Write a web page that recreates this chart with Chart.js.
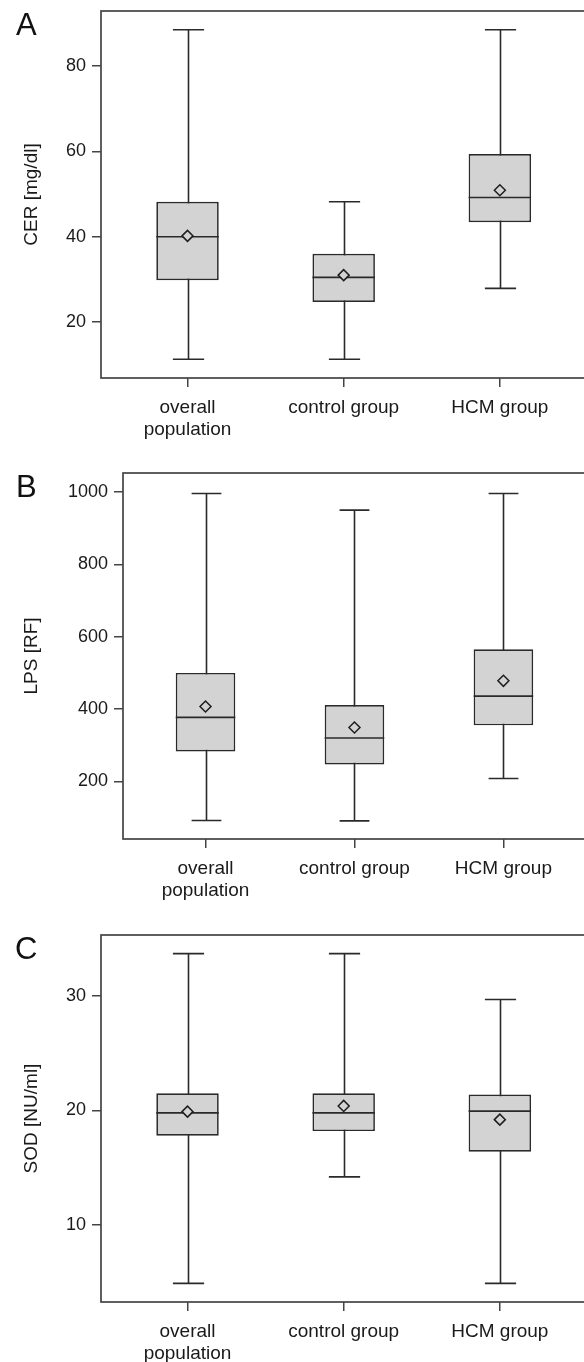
<!DOCTYPE html>
<html>
<head>
<meta charset="utf-8">
<script src="https://cdn.jsdelivr.net/npm/chart.js@4"></script>
<style>
  body { margin: 0; background: #fff; width: 584px; height: 1362px; position: relative; overflow: hidden; }
  canvas { position: absolute; left: 0; }
  .letter { position: absolute; font: 31px 'Liberation Sans', Arial, sans-serif; line-height: 1; color: #111; }
</style>
</head>
<body>
<canvas id="chartA" width="584" height="446" style="top:-6px"></canvas>
<canvas id="chartB" width="584" height="460" style="top:440px"></canvas>
<canvas id="chartC" width="584" height="462" style="top:900px"></canvas>
<div class="letter" style="left:16px;top:9px">A</div>
<div class="letter" style="left:16px;top:471px">B</div>
<div class="letter" style="left:15px;top:933px">C</div>
<script>
// groups on the x axis
const categories = [['overall', 'population'], 'control group', 'HCM group'];
const groupPos = [1, 2, 3];

// CER [mg/dl]
const cerMin = [11.3, 11.3, 27.9];
const cerQ1 = [29.8, 24.7, 43.4];
const cerMedian = [40.0, 30.5, 49.2];
const cerQ3 = [48.2, 36.0, 59.4];
const cerMax = [88.5, 48.2, 88.5];
const cerMean = [40.2, 31.0, 50.9];
const cerTicks = [20, 40, 60, 80];

// LPS [RF]
const lpsMin = [92, 91, 208];
const lpsQ1 = [283, 247, 355];
const lpsMedian = [377, 320, 436];
const lpsQ3 = [500, 411, 565];
const lpsMax = [996, 950, 996];
const lpsMean = [407, 349, 478];
const lpsTicks = [200, 400, 600, 800, 1000];

// SOD [NU/ml]
const sodMin = [4.9, 14.2, 4.9];
const sodQ1 = [17.8, 18.2, 16.4];
const sodMedian = [19.8, 19.8, 19.95];
const sodQ3 = [21.5, 21.5, 21.4];
const sodMax = [33.7, 33.7, 29.7];
const sodMean = [19.9, 20.4, 19.2];
const sodTicks = [10, 20, 30];

const FONT = "'Liberation Sans', Arial, sans-serif";
const LINE = '#2a2a2a';
const BOX_FILL = '#d3d3d3';

// whiskers, caps, medians and the frame, all placed through the chart scales
const boxPlugin = {
  id: 'boxParts',
  beforeDatasetsDraw(chart, args, opts) {
    const { ctx, chartArea: a, scales: { x, y } } = chart;
    const bars = chart.getDatasetMeta(0).data;
    ctx.save();
    // frame (right side runs off the canvas like in the source figure)
    ctx.strokeStyle = '#444';
    ctx.lineWidth = 1.7;
    ctx.strokeRect(a.left, a.top, a.right - a.left + 20, a.bottom - a.top);
    ctx.strokeStyle = LINE;
    ctx.lineWidth = 1.6;
    groupPos.forEach((g, i) => {
      const px = Math.round(x.getPixelForValue(g)) + 0.5;
      const half = bars[i].width / 4;
      const yLo = y.getPixelForValue(opts.min[i]);
      const yHi = y.getPixelForValue(opts.max[i]);
      ctx.beginPath();
      ctx.moveTo(px, yLo); ctx.lineTo(px, yHi);
      ctx.moveTo(px - half, yLo); ctx.lineTo(px + half, yLo);
      ctx.moveTo(px - half, yHi); ctx.lineTo(px + half, yHi);
      ctx.stroke();
    });
    ctx.restore();
  },
  afterDatasetDraw(chart, args, opts) {
    if (args.index !== 0) return;
    const { ctx, scales: { x, y } } = chart;
    const bars = chart.getDatasetMeta(0).data;
    ctx.save();
    ctx.strokeStyle = LINE;
    ctx.lineWidth = 1.7;
    groupPos.forEach((g, i) => {
      const px = x.getPixelForValue(g);
      const half = bars[i].width / 2;
      const py = y.getPixelForValue(opts.median[i]);
      ctx.beginPath();
      ctx.moveTo(px - half, py); ctx.lineTo(px + half, py);
      ctx.stroke();
    });
    ctx.restore();
  }
};

function makePanel(id, s, layout) {
  return new Chart(document.getElementById(id), {
    type: 'bar',
    data: {
      datasets: [{
        data: groupPos.map((g, i) => ({ x: g, y: [s.q1[i], s.q3[i]] })),
        backgroundColor: BOX_FILL,
        borderColor: LINE,
        borderWidth: 1.7,
        borderSkipped: false,
        barPercentage: 0.4,
        categoryPercentage: 1,
        order: 2
      }, {
        type: 'scatter',
        data: groupPos.map((g, i) => ({ x: g, y: s.mean[i] })),
        pointStyle: 'rectRot',
        radius: 5.5,
        borderWidth: 1.5,
        borderColor: '#1e1e1e',
        backgroundColor: BOX_FILL,
        order: 1
      }]
    },
    options: {
      responsive: false,
      animation: false,
      layout: { padding: { top: layout.top, left: 0, right: 0, bottom: 0 } },
      plugins: {
        legend: { display: false },
        tooltip: { enabled: false },
        boxParts: { min: s.min, max: s.max, median: s.median }
      },
      scales: {
        x: {
          type: 'linear',
          min: 0.446,
          max: 3.494,
          offset: false,
          afterBuildTicks: sc => { sc.ticks = groupPos.map(v => ({ value: v })); },
          afterFit: sc => { sc.height = layout.xh; },
          grid: { display: true, drawOnChartArea: false, offset: false, tickLength: 9, color: '#444', lineWidth: 1.5 },
          border: { display: false },
          ticks: {
            autoSkip: false,
            maxRotation: 0,
            padding: 9,
            color: '#1a1a1a',
            font: { family: FONT, size: 19, lineHeight: 1.2 },
            callback: v => categories[groupPos.indexOf(v)]
          }
        },
        y: {
          min: s.range[0],
          max: s.range[1],
          afterBuildTicks: sc => { sc.ticks = s.ticks.map(v => ({ value: v })); },
          afterFit: sc => { sc.width = layout.left; },
          grid: { display: true, drawOnChartArea: false, tickLength: 9, color: '#444', lineWidth: 1.5 },
          border: { display: false },
          ticks: {
            padding: 6,
            color: '#1a1a1a',
            font: { family: FONT, size: 18 },
            callback: v => String(v)
          },
          title: {
            display: true,
            text: s.title,
            color: '#1a1a1a',
            font: { family: FONT, size: 19 },
            padding: { top: 20, bottom: 0 }
          }
        }
      }
    },
    plugins: [boxPlugin]
  });
}

makePanel('chartA', {
  min: cerMin, q1: cerQ1, median: cerMedian, q3: cerQ3, max: cerMax, mean: cerMean,
  ticks: cerTicks, range: [6.9, 92.9], title: 'CER [mg/dl]'
}, { top: 17, left: 101, xh: 62 });

makePanel('chartB', {
  min: lpsMin, q1: lpsQ1, median: lpsMedian, q3: lpsQ3, max: lpsMax, mean: lpsMean,
  ticks: lpsTicks, range: [40.8, 1052.5], title: 'LPS [RF]'
}, { top: 33, left: 123, xh: 61 });

makePanel('chartC', {
  min: sodMin, q1: sodQ1, median: sodMedian, q3: sodQ3, max: sodMax, mean: sodMean,
  ticks: sodTicks, range: [3.27, 35.33], title: 'SOD [NU/ml]'
}, { top: 35, left: 101, xh: 60 });
</script>
</body>
</html>
